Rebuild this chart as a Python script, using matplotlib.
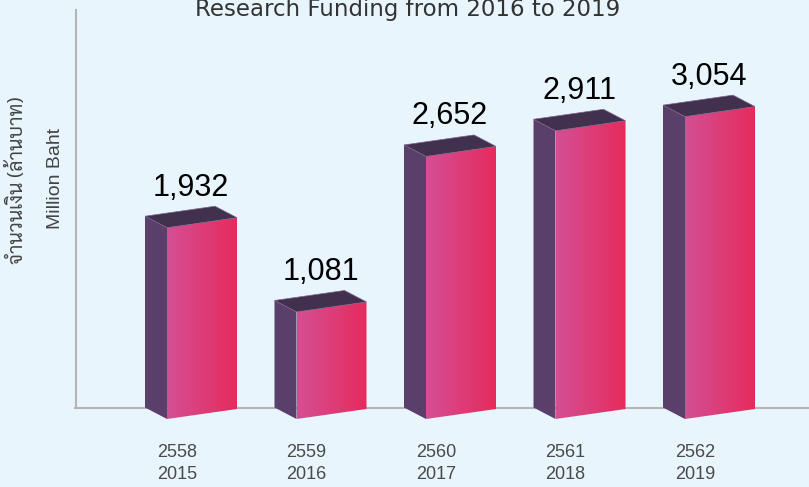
import matplotlib
matplotlib.use("Agg")
import matplotlib.pyplot as plt
from matplotlib.patches import Polygon
from matplotlib.colors import LinearSegmentedColormap
import numpy as np

years_be = ["2558", "2559", "2560", "2561", "2562"]
years_ad = ["2015", "2016", "2017", "2018", "2019"]
funding = [1932, 1081, 2652, 2911, 3054]

bg = "#e8f5fd"
side_col = "#5b3f6b"
top_col = "#42304f"
front_cmap = LinearSegmentedColormap.from_list("front", ["#d44f95", "#e62b5c"])

W, H = 809, 487
fig = plt.figure(figsize=(W / 100, H / 100), dpi=100, facecolor=bg)
ax = fig.add_axes([75 / W, 0, 1 - 75 / W, 1])
ax.set_facecolor(bg)
ax.axis("off")

px_x = 129.5  # pixels per category
px_y = 10.1   # value units per pixel
xmin, xmax = (75 - 202) / px_x, (809 - 202) / px_x

wf = 70 / px_x        # front width
dx = 22 / px_x        # depth, horizontal
dy = 11.5 * px_y      # depth, vertical
slope = 10 * px_y     # front face tilt

# axis lines
ax.plot([xmin, xmax], [dy, dy], color="#b5b5b5", lw=1.5, zorder=0, clip_on=False)
ax.plot([xmin + 0.5 / px_x] * 2, [dy, 409 * px_y], color="#b5b5b5", lw=1.5, zorder=0, clip_on=False)

grad = np.linspace(0, 1, 256).reshape(1, -1)
for i, v in enumerate(funding):
    x0, x1 = i - wf / 2, i + wf / 2
    side = [(x0 - dx, dy), (x0, 0), (x0, v), (x0 - dx, v + dy)]
    ax.add_patch(Polygon(side, fc=side_col, ec="none", zorder=2))
    front = Polygon([(x0, 0), (x1, slope), (x1, v + slope), (x0, v)], fc="none", ec="none")
    ax.add_patch(front)
    im = ax.imshow(grad, cmap=front_cmap, extent=[x0, x1, 0, v + slope],
                   aspect="auto", zorder=3)
    im.set_clip_path(front)
    top = [(x0, v), (x1, v + slope), (x1 - dx, v + slope + dy), (x0 - dx, v + dy)]
    ax.add_patch(Polygon(top, fc=top_col, ec="#7d6585", lw=0.5, zorder=4))
    ax.text(i - 11 / px_x, v + 32 * px_y, f"{v:,}", ha="center", va="baseline",
            fontsize=22, family="Liberation Sans", color="black")
    ax.text(i - 25 / px_x, (419 - 463.5) * px_y, f"{years_be[i]}\n{years_ad[i]}",
            ha="center", va="center", fontsize=13, color="#4a4a4a",
            linespacing=1.45, family="Liberation Sans")

ax.set_xlim(xmin, xmax)
ax.set_ylim(-(H - 419) * px_y, 419 * px_y)

fig.text(408 / W, 1 - 16 / H, "Research Funding from 2016 to 2019", ha="center",
         va="baseline", fontsize=16.5, color="#333333", family="DejaVu Sans")
fig.text(17 / W, 1 - 180 / H, "จำนวนเงิน (ล้านบาท)", rotation=90, ha="center",
         va="center", fontsize=14, color="#444444",
         family=["Sarabun", "DejaVu Sans"])
fig.text(55 / W, 1 - 178 / H, "Million Baht", rotation=90, ha="center",
         va="center", fontsize=14, color="#444444", family="Liberation Sans")

fig.savefig("out.png", dpi=100, facecolor=bg)
